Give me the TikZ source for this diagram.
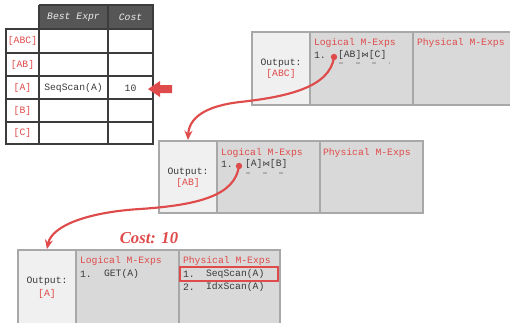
\documentclass[tikz,border=0pt]{standalone}
\usepackage{fontspec}
\setmainfont{Liberation Serif}
\setmonofont{Liberation Mono}
\newfontfamily\symfont{DejaVu Sans}
\usetikzlibrary{arrows.meta}

\definecolor{hired}{HTML}{DF4A4A}
\definecolor{cellgray}{HTML}{D9D9D9}
\definecolor{outgray}{HTML}{F0F0F0}
\definecolor{edgegray}{HTML}{A8A8A8}
\definecolor{ink}{HTML}{3C3C3C}
\definecolor{hdr}{HTML}{565656}
\definecolor{txt}{HTML}{3A3A3A}
\definecolor{dashgray}{HTML}{B0B0B0}

\newcommand{\bowjoin}{{\symfont\fontsize{5.6}{8}\selectfont ⋈}}

\tikzset{
  every node/.style={inner sep=0pt, outer sep=0pt, font=\ttfamily\fontsize{7.3}{8}\selectfont, text=txt},
  tablerule/.style={draw=ink, line width=1.05pt},
  outcell/.style={fill=outgray, draw=edgegray, line width=1pt},
  mcell/.style={fill=cellgray, draw=edgegray, line width=1pt},
  redtext/.style={text=hired},
  hdrtext/.style={text=white!92!black, font=\ttfamily\itshape\fontsize{7.3}{8}\selectfont},
  link/.style={draw=hired, line width=1.6pt, -{Stealth[length=7pt,width=6pt]}},
  underdash/.style={draw=dashgray, line width=0.8pt, dash pattern=on 3pt off 9.5pt},
}

\begin{document}
\begin{tikzpicture}[x=0.75pt, y=-0.75pt]
\useasboundingbox (0,0) rectangle (510,322);
\clip (0,0) rectangle (510,322);

% ---------------- memo table ----------------
\fill[hdr] (39,5) rectangle (153,29);
\draw[tablerule] (6,29) rectangle (153,144);
\draw[tablerule] (39,5) -- (39,144);
\draw[tablerule] (108,5) -- (108,144);
\draw[tablerule] (39,5) -- (153,5) -- (153,29);
\foreach \yy in {53,76,99,122} \draw[tablerule] (6,\yy) -- (153,\yy);

\node[hdrtext] (hBest) at (73.5,17) {Best Expr};
\node[hdrtext] (hCost) at (130.5,17) {Cost};
\node[redtext] (rABC) at (22.5,41) {[ABC]};
\node[redtext] (rAB)  at (22.5,65) {[AB]};
\node[redtext] (rA)   at (22.5,88) {[A]};
\node[redtext] (rB)   at (22.5,111) {[B]};
\node[redtext] (rC)   at (22.5,133) {[C]};
\node (bestA) at (73.5,88) {SeqScan(A)};
\node (costA) at (130.5,88) {10};

% block arrow pointing at the [A] row
\fill[hired] (148,89) -- (160,81) -- (160,85) -- (172,85) -- (172,93) -- (160,93) -- (160,97) -- cycle;

% ---------------- group [ABC] ----------------
\path[outcell] (252,32) rectangle (310,105);
\path[mcell] (310,32) rectangle (413,105);
\path[mcell] (413,32) rectangle (530,105);
\node (outABC) at (281,63) {Output:};
\node[redtext] (outABCname) at (281,74) {[ABC]};
\node[redtext, anchor=west] (logABC) at (314,43) {Logical M-Exps};
\node[anchor=west] (numABC) at (314,55) {1.};
\node[anchor=west] (exprABC) at (338,55) {[AB]\bowjoin[C]};
\node[redtext, anchor=west] (phyABC) at (417,43) {Physical M-Exps};
\draw[underdash] (339,63) -- (390,63);

% ---------------- group [AB] ----------------
\path[outcell] (159,141) rectangle (217,213);
\path[mcell] (217,141) rectangle (320,213);
\path[mcell] (320,141) rectangle (423,213);
\node (outAB) at (188,172) {Output:};
\node[redtext] (outABname) at (188,183) {[AB]};
\node[redtext, anchor=west] (logAB) at (221,153) {Logical M-Exps};
\node[anchor=west] (numAB) at (221,164) {1.};
\node[anchor=west] (exprAB) at (245,164) {[A]\bowjoin[B]};
\node[redtext, anchor=west] (phyAB) at (323,153) {Physical M-Exps};
\draw[underdash] (246,173) -- (292,173);

% ---------------- group [A] ----------------
\path[outcell] (18,250) rectangle (76,335);
\path[mcell] (76,250) rectangle (179,335);
\path[mcell] (179,250) rectangle (280,335);
\node (outA) at (47,281) {Output:};
\node[redtext] (outAname) at (47,294) {[A]};
\node[redtext, anchor=west] (logA) at (80,261) {Logical M-Exps};
\node[anchor=west] (numA) at (80,274) {1.};
\node[anchor=west] (getA) at (104,274) {GET(A)};
\node[redtext, anchor=west] (phyA) at (183,261) {Physical M-Exps};
\node[anchor=west] (num1A) at (183,274) {1.};
\node[anchor=west] (seqA) at (206,274) {SeqScan(A)};
\node[anchor=west] (num2A) at (183,287) {2.};
\node[anchor=west] (idxA) at (206,287) {IdxScan(A)};
\draw[hired, line width=1pt] (180,267) rectangle (278,281);

\node[text=hired, font=\rmfamily\bfseries\itshape\fontsize{12.5}{14}\selectfont] (costLabel) at (149,238) {Cost: 10};

% ---------------- links between groups ----------------
\coordinate (dotABC) at (334,57);
\coordinate (dotAB) at (239,166);
\coordinate (inAB) at (188,140);
\coordinate (inA) at (47,249);
\fill[hired] (dotABC) circle (3.2);
\fill[hired] (dotAB) circle (3.2);
\draw[link] (dotABC) .. controls (330,88) and (285,97) .. (240,102)
                     .. controls (205,106) and (189,118) .. (inAB);
\draw[link] (dotAB) .. controls (235,195) and (200,205) .. (140,209)
                    .. controls (90,212) and (52,225) .. (inA);
\end{tikzpicture}
\end{document}
